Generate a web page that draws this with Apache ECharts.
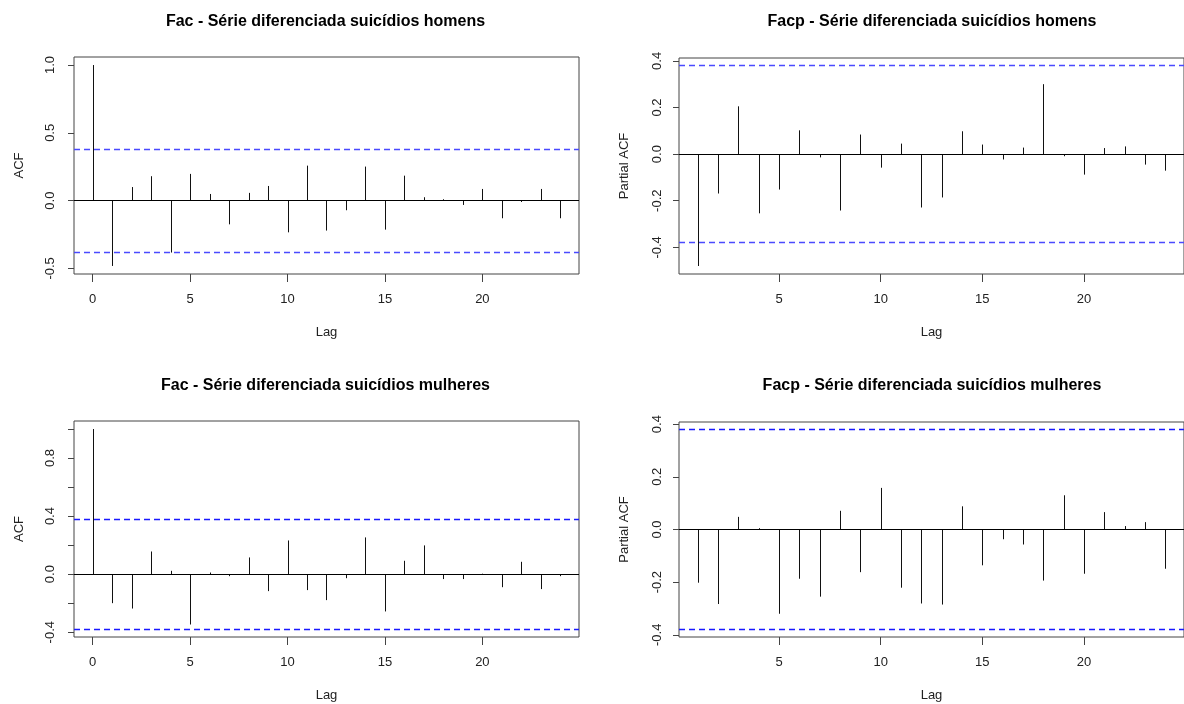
<!DOCTYPE html>
<html>
<head>
<meta charset="utf-8">
<script src="https://cdn.jsdelivr.net/npm/echarts@6/dist/echarts.min.js"></script>
<style>
  html, body { margin: 0; padding: 0; background: #fff; }
  #main { width: 1184px; height: 704px; }
</style>
</head>
<body>
<div id="main"></div>
<script>
// lags
const lagsAcf = [0, 1, 2, 3, 4, 5, 6, 7, 8, 9, 10, 11, 12, 13, 14, 15, 16, 17, 18, 19, 20, 21, 22, 23, 24];
const lagsPacf = [1, 2, 3, 4, 5, 6, 7, 8, 9, 10, 11, 12, 13, 14, 15, 16, 17, 18, 19, 20, 21, 22, 23, 24];

// men
const acfHomens = [1.0, -0.482, 0.10, 0.18, -0.383, 0.197, 0.049, -0.175, 0.057, 0.108, -0.234,
  0.258, -0.221, -0.071, 0.251, -0.214, 0.184, 0.025, 0.01, -0.032, 0.086, -0.13, -0.01, 0.086, -0.13];
const pacfHomens = [-0.48, -0.169, 0.205, -0.254, -0.152, 0.102, -0.014, -0.242, 0.084, -0.058,
  0.045, -0.229, -0.186, 0.098, 0.041, -0.023, 0.028, 0.30, -0.009, -0.088, 0.026, 0.033, -0.045, -0.071];

// women
const acfMulheres = [1.0, -0.2, -0.237, 0.156, 0.023, -0.347, 0.011, -0.014, 0.115, -0.117, 0.232,
  -0.11, -0.179, -0.028, 0.253, -0.257, 0.092, 0.198, -0.034, -0.034, 0.003, -0.09, 0.085, -0.103, -0.014];
const pacfMulheres = [-0.202, -0.283, 0.048, 0.005, -0.32, -0.187, -0.255, 0.071, -0.162, 0.158,
  -0.221, -0.281, -0.285, 0.088, -0.136, -0.037, -0.057, -0.194, 0.13, -0.168, 0.066, 0.013, 0.028, -0.149];

// confidence limit
const clim = 0.378;

// tick values
const ticksAcfX = [0, 5, 10, 15, 20];
const ticksPacfX = [5, 10, 15, 20];
const ticksY1 = [-0.5, 0, 0.5, 1.0];
const ticksY2 = [-0.4, -0.2, 0, 0.2, 0.4];
const ticksY3 = [-0.4, -0.2, 0, 0.2, 0.4, 0.6, 0.8, 1.0];
const labelsY3 = [-0.4, 0, 0.4, 0.8];
const ticksY4 = [-0.4, -0.2, 0, 0.2, 0.4];

const titles = [
  'Fac - Série diferenciada suicídios homens',
  'Facp - Série diferenciada suicídios homens',
  'Fac - Série diferenciada suicídios mulheres',
  'Facp - Série diferenciada suicídios mulheres'
];

const font = 'Liberation Sans, Arial, sans-serif';

// R style limits: range extended by 4%
function lim(vals) {
  const lo = Math.min(...vals), hi = Math.max(...vals);
  const d = (hi - lo) * 0.04;
  return [lo - d, hi + d];
}

const panels = [
  { x: lagsAcf, y: acfHomens, yName: 'ACF', xt: ticksAcfX, yt: ticksY1, yl: ticksY1,
    grid: { left: 74, top: 57, width: 505, height: 217 }, dash: '#4a4aff', lm: 17 },
  { x: lagsPacf, y: pacfHomens, yName: 'Partial ACF', xt: ticksPacfX, yt: ticksY2, yl: ticksY2,
    grid: { left: 679, top: 58, width: 508, height: 216 }, dash: '#4a4aff', lm: 15 },
  { x: lagsAcf, y: acfMulheres, yName: 'ACF', xt: ticksAcfX, yt: ticksY3, yl: labelsY3,
    grid: { left: 74, top: 421, width: 505, height: 216 }, dash: '#1a1aff', lm: 17 },
  { x: lagsPacf, y: pacfMulheres, yName: 'Partial ACF', xt: ticksPacfX, yt: ticksY4, yl: ticksY4,
    grid: { left: 679, top: 422, width: 508, height: 215 }, dash: '#1a1aff', lm: 15 }
];

const grid = [], xAxis = [], yAxis = [], series = [], title = [];

panels.forEach((p, i) => {
  grid.push(Object.assign({ show: true, borderColor: '#444', borderWidth: 1, containLabel: false }, p.grid));
  const xl = lim(p.x);
  const yLim = lim(p.y.concat([clim, -clim]));
  xAxis.push({
    type: 'value', gridIndex: i, min: xl[0], max: xl[1],
    name: 'Lag', nameLocation: 'middle', nameGap: 52,
    nameTextStyle: { fontFamily: font, fontSize: 13, color: '#222' },
    axisLine: { show: false, onZero: false },
    axisTick: { show: true, length: 8, customValues: p.xt, lineStyle: { color: '#444' } },
    axisLabel: { customValues: p.xt, margin: 19, fontFamily: font, fontSize: 13, color: '#222' },
    splitLine: { show: false }
  });
  yAxis.push({
    type: 'value', gridIndex: i, min: yLim[0], max: yLim[1],
    name: p.yName, nameLocation: 'middle', nameGap: 48,
    nameTextStyle: { fontFamily: font, fontSize: 13, color: '#222' },
    axisLine: { show: false, onZero: false },
    axisTick: { show: true, length: 6, customValues: p.yt, lineStyle: { color: '#444' } },
    axisLabel: {
      customValues: p.yl, rotate: 90, margin: p.lm, fontFamily: font, fontSize: 13, color: '#222',
      formatter: (v) => v.toFixed(1)
    },
    splitLine: { show: false }
  });
  title.push({
    text: titles[i],
    left: p.grid.left + p.grid.width / 2 - 6, top: i < 2 ? 9 : 373, textAlign: 'center',
    textStyle: { fontFamily: font, fontSize: 16, fontWeight: 'bold', color: '#000' }
  });
  series.push({
    type: 'custom', xAxisIndex: i, yAxisIndex: i,
    data: p.x.map((lag, k) => [lag, p.y[k]]),
    renderItem: (params, api) => {
      const a = api.coord([api.value(0), 0]);
      const b = api.coord([api.value(0), api.value(1)]);
      const x = Math.round(a[0]) + 0.5;
      return { type: 'line', shape: { x1: x, y1: a[1], x2: x, y2: b[1] },
        style: { stroke: '#111', lineWidth: 1 } };
    },
    markLine: {
      silent: true, symbol: ['none', 'none'], label: { show: false },
      data: [
        { yAxis: 0, lineStyle: { type: 'solid', color: '#000', width: 1 } },
        { yAxis: clim, lineStyle: { type: [6, 4], color: p.dash, width: 1.3 } },
        { yAxis: -clim, lineStyle: { type: [6, 4], color: p.dash, width: 1.3 } }
      ]
    }
  });
});

const myChart = echarts.init(document.getElementById('main'));
myChart.setOption({ animation: false, title, grid, xAxis, yAxis, series });
window.addEventListener('resize', myChart.resize);
</script>
</body>
</html>
